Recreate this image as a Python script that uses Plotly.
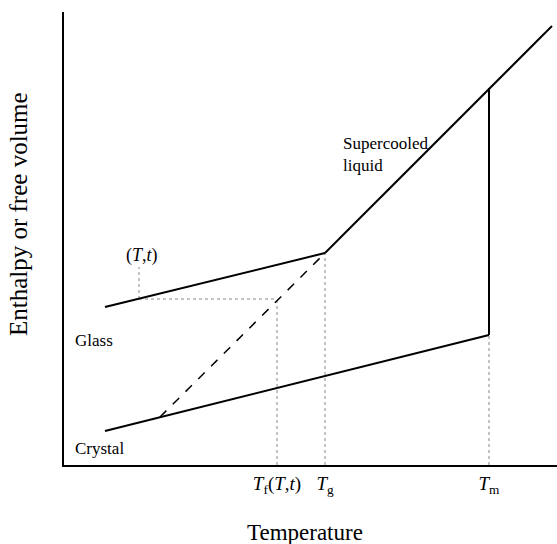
import plotly.graph_objects as go

# Data (temperature / enthalpy in arbitrary units)
T_glass = [41, 261]
H_glass = [158, 212]
T_liquid = [261, 488]
H_liquid = [212, 439]
T_crystal = [41, 425]
H_crystal = [34, 130]
T_extrap = [96, 261]
H_extrap = [48, 212]
T_f = 213
T_g = 261
T_m = 425
T_obs = 75
H_obs = 166
H_obs_top = 198
H_m_liquid = 377
tick_vals = [T_f, T_g, T_m]
tick_text = ["<i>T</i><sub>f</sub>(<i>T</i>,<i>t</i>)", "<i>T</i><sub>g</sub>", "<i>T</i><sub>m</sub>"]

FONT = "Liberation Serif"
solid = dict(color="black", width=2)
dotted = dict(color="#888888", width=1, dash="dot")

fig = go.Figure()
def add(x, y, line):
    fig.add_trace(go.Scatter(x=x, y=y, mode="lines", line=line, hoverinfo="skip", showlegend=False))

# dotted guide lines
add([T_f, T_f], [0, H_obs], dotted)
add([T_g, T_g], [0, H_glass[1]], dotted)
add([T_m, T_m], [0, H_crystal[1]], dotted)
add([T_obs, T_f], [H_obs, H_obs], dotted)
add([T_obs, T_obs], [H_obs, H_obs_top], dotted)
# main curves
add(T_glass, H_glass, solid)
add(T_liquid, H_liquid, solid)
add(T_crystal, H_crystal, solid)
add(T_extrap, H_extrap, dict(color="black", width=1.5, dash="dash"))
add([T_m, T_m], [H_crystal[1], H_m_liquid], solid)

def f(size):
    return dict(size=size, family=FONT, color="black")

fig.update_layout(
    width=557, height=544,
    margin=dict(l=64, r=0, t=12, b=79),
    plot_bgcolor="white", paper_bgcolor="white",
    font=f(17),
    xaxis=dict(range=[0, 493], showgrid=False, zeroline=False, showline=True,
               linecolor="black", linewidth=2, tickvals=tick_vals, ticktext=tick_text,
               ticks="", tickfont=f(19)),
    yaxis=dict(range=[0, 453], showgrid=False, zeroline=False, showline=True,
               linecolor="black", linewidth=2, showticklabels=False, ticks=""),
    annotations=[
        dict(x=9, y=125, xref="x", yref="y", text="Glass", showarrow=False,
             xanchor="left", yanchor="middle", font=f(17)),
        dict(x=9, y=17, xref="x", yref="y", text="Crystal", showarrow=False,
             xanchor="left", yanchor="middle", font=f(17)),
        dict(x=277, y=311, xref="x", yref="y", text="Supercooled<br>liquid", showarrow=False,
             xanchor="left", yanchor="middle", align="left", font=f(17)),
        dict(x=T_obs + 3, y=210, xref="x", yref="y", text="(<i>T</i>,<i>t</i>)", showarrow=False,
             xanchor="center", yanchor="middle", font=f(18)),
        dict(x=0.488, y=-0.15, xref="paper", yref="paper", text="Temperature", showarrow=False,
             xanchor="center", yanchor="middle", font=f(23)),
        dict(x=-0.0933, y=0.554, xref="paper", yref="paper", text="Enthalpy or free volume",
             showarrow=False, textangle=-90, xanchor="center", yanchor="middle", font=f(25)),
    ],
)
fig.write_html("out.html")
